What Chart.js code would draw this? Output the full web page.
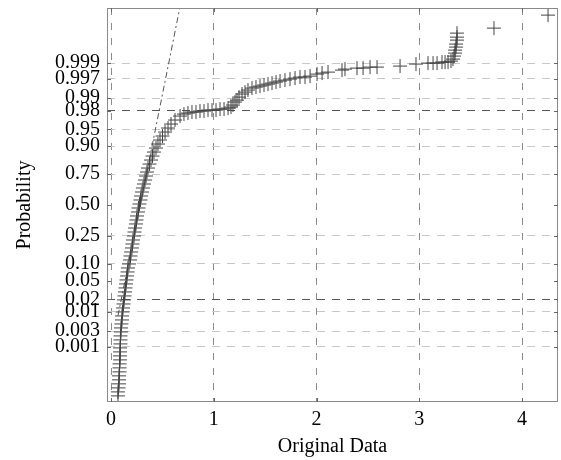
<!DOCTYPE html>
<html lang="en">
<head>
<meta charset="UTF-8" />
<title>Normal Probability Plot</title>
<style>
  body { margin: 0; background: #fff; }
  #wrap { width: 561px; height: 460px; }
</style>
</head>
<body>
<div id="wrap"><canvas id="chart" width="561" height="460"></canvas></div>
<script src="https://cdn.jsdelivr.net/npm/chart.js@4"></script>
<script>
// sample values (Original Data) and their plotting positions,
// read off the probability axis as standard normal quantiles
const dataX = [
  0.068, 0.068, 0.073, 0.078, 0.078, 0.078, 0.083, 0.083, 0.083, 0.088,
  0.088, 0.088, 0.088, 0.092, 0.092, 0.092, 0.097, 0.097, 0.102, 0.107,
  0.107, 0.112, 0.117, 0.122, 0.127, 0.131, 0.136, 0.141, 0.146, 0.151,
  0.156, 0.161, 0.165, 0.175, 0.185, 0.190, 0.195, 0.204, 0.209, 0.214,
  0.224, 0.229, 0.234, 0.243, 0.248, 0.253, 0.263, 0.268, 0.277, 0.287,
  0.292, 0.302, 0.311, 0.321, 0.331, 0.341, 0.350, 0.360, 0.375, 0.389,
  0.404, 0.418, 0.438, 0.457, 0.477, 0.501, 0.526, 0.555, 0.584, 0.623,
  0.672, 0.710, 0.749, 0.788, 0.827, 0.866, 0.905, 0.944, 0.983, 1.022,
  1.061, 1.100, 1.139, 1.168, 1.187, 1.207, 1.226, 1.246, 1.275, 1.304,
  1.333, 1.372, 1.411, 1.450, 1.489, 1.528, 1.567, 1.606, 1.645, 1.693,
  1.742, 1.791, 1.839, 1.888, 1.937, 2.005, 2.054, 2.112, 2.248, 2.277,
  2.394, 2.453, 2.521, 2.589, 2.813, 2.968, 3.085, 3.134, 3.173, 3.221,
  3.251, 3.280, 3.309, 3.328, 3.338, 3.348, 3.348, 3.358, 3.358, 3.367,
  3.367, 3.367, 3.727, 4.253
];
const dataQ = [
  -4.157, -4.070, -3.983, -3.895, -3.808, -3.721, -3.634, -3.547, -3.460, -3.373,
  -3.286, -3.199, -3.112, -3.025, -2.938, -2.851, -2.764, -2.677, -2.590, -2.503,
  -2.416, -2.329, -2.242, -2.155, -2.067, -1.980, -1.893, -1.806, -1.719, -1.632,
  -1.545, -1.458, -1.371, -1.284, -1.197, -1.110, -1.023, -0.936, -0.849, -0.762,
  -0.675, -0.588, -0.501, -0.413, -0.326, -0.239, -0.152, -0.065, 0.022, 0.109,
  0.196, 0.283, 0.370, 0.457, 0.544, 0.631, 0.718, 0.805, 0.892, 0.979,
  1.066, 1.153, 1.240, 1.328, 1.415, 1.502, 1.589, 1.676, 1.763, 1.850,
  1.937, 1.980, 2.002, 2.024, 2.024, 2.046, 2.046, 2.067, 2.067, 2.067,
  2.089, 2.089, 2.111, 2.133, 2.176, 2.242, 2.285, 2.350, 2.416, 2.459,
  2.503, 2.546, 2.568, 2.590, 2.612, 2.633, 2.655, 2.677, 2.699, 2.720,
  2.742, 2.764, 2.786, 2.786, 2.807, 2.851, 2.873, 2.894, 2.938, 2.960,
  2.981, 2.981, 3.003, 3.003, 3.025, 3.069, 3.090, 3.090, 3.090, 3.112,
  3.112, 3.112, 3.134, 3.177, 3.243, 3.308, 3.373, 3.439, 3.504, 3.591,
  3.656, 3.743, 3.852, 4.135
];

// reference line: dash-dot ends, solid between the quartiles
const refX = [0.068, 0.224, 0.345, 0.688];
const refQ = [-2.41, -0.674, 0.674, 4.5];

const probLevels = [0.001, 0.003, 0.01, 0.02, 0.05, 0.10, 0.25, 0.50, 0.75, 0.90, 0.95, 0.98, 0.99, 0.997, 0.999];
const probLabels = ['0.001', '0.003', '0.01', '0.02', '0.05', '0.10', '0.25', '0.50', '0.75', '0.90', '0.95', '0.98', '0.99', '0.997', '0.999'];
const xTicks = [0, 1, 2, 3, 4];

// inverse of the standard normal CDF (Acklam)
function norminv(p) {
  const a = [-39.69683028665376, 220.9460984245205, -275.9285104469687, 138.3577518672690, -30.66479806614716, 2.506628277459239];
  const b = [-54.47609879822406, 161.5858368580409, -155.6989798598866, 66.80131188771972, -13.28068155288572];
  const c = [-0.007784894002430293, -0.3223964580411365, -2.400758277161838, -2.549732539343734, 4.374664141464968, 2.938163982698783];
  const d = [0.007784695709041462, 0.3224671290700398, 2.445134137142996, 3.754408661907416];
  const pl = 0.02425;
  let q, r;
  if (p < pl) {
    q = Math.sqrt(-2 * Math.log(p));
    return (((((c[0]*q+c[1])*q+c[2])*q+c[3])*q+c[4])*q+c[5]) / ((((d[0]*q+d[1])*q+d[2])*q+d[3])*q+1);
  }
  if (p > 1 - pl) {
    q = Math.sqrt(-2 * Math.log(1 - p));
    return -(((((c[0]*q+c[1])*q+c[2])*q+c[3])*q+c[4])*q+c[5]) / ((((d[0]*q+d[1])*q+d[2])*q+d[3])*q+1);
  }
  q = p - 0.5; r = q * q;
  return (((((a[0]*r+a[1])*r+a[2])*r+a[3])*r+a[4])*r+a[5])*q / (((((b[0]*r+b[1])*r+b[2])*r+b[3])*r+b[4])*r+1);
}

const serif = { family: "'Liberation Serif', 'DejaVu Serif', serif", size: 20 };

function hGridColor(ctx) {
  const lbl = probLabels[ctx.index];
  if (lbl === '0.50' || lbl === '0.05') return 'rgba(0,0,0,0)';
  if (lbl === '0.98' || lbl === '0.02') return '#555';
  return '#c8c8c8';
}

// box round the plot area plus short inward tick marks
const frame = {
  id: 'frame',
  afterDatasetsDraw(chart) {
    const { ctx, chartArea: a, scales } = chart;
    ctx.save();
    ctx.strokeStyle = '#8a8a8a';
    ctx.lineWidth = 1;
    ctx.strokeRect(a.left + 0.5, a.top + 0.5, a.right - a.left - 1, a.bottom - a.top - 1);
    ctx.strokeStyle = '#666';
    ctx.beginPath();
    probLevels.forEach(p => {
      const y = Math.round(scales.y.getPixelForValue(norminv(p))) + 0.5;
      ctx.moveTo(a.left, y); ctx.lineTo(a.left + 4, y);
      ctx.moveTo(a.right, y); ctx.lineTo(a.right - 4, y);
    });
    xTicks.forEach(v => {
      const x = Math.round(scales.x.getPixelForValue(v)) + 0.5;
      ctx.moveTo(x, a.bottom); ctx.lineTo(x, a.bottom - 4);
      ctx.moveTo(x, a.top); ctx.lineTo(x, a.top + 4);
    });
    ctx.stroke();
    ctx.restore();
  }
};

new Chart(document.getElementById('chart'), {
  type: 'scatter',
  data: {
    datasets: [
      {
        data: dataX.map((x, i) => ({ x: x, y: dataQ[i] })),
        pointStyle: 'cross',
        pointRadius: 7,
        pointBorderColor: '#444',
        pointBorderWidth: 1,
        showLine: false
      },
      {
        data: refX.map((x, i) => ({ x: x, y: refQ[i] })),
        showLine: true,
        borderColor: '#555',
        borderWidth: 1,
        pointRadius: 0,
        segment: { borderDash: c => c.p0DataIndex === 1 ? [] : [6, 3, 2, 3] }
      }
    ]
  },
  options: {
    responsive: false,
    devicePixelRatio: 1,
    animation: false,
    layout: { autoPadding: false, padding: { top: 8, right: 3, left: 0, bottom: 0 } },
    plugins: { legend: { display: false }, tooltip: { enabled: false } },
    scales: {
      x: {
        type: 'linear',
        min: -0.039,
        max: 4.35,
        afterBuildTicks: s => { s.ticks = xTicks.map(v => ({ value: v })); },
        afterFit: s => { s.height = 58; s.paddingLeft = 0; s.paddingRight = 0; },
        ticks: { font: serif, color: '#000', padding: 6, maxRotation: 0 },
        grid: { drawTicks: false, color: '#8c8c8c' },
        border: { display: false, dash: [7, 8] },
        title: { display: true, text: 'Original Data', font: serif, color: '#000', padding: { top: 0, bottom: 1 } }
      },
      y: {
        type: 'linear',
        min: -4.29,
        max: 4.29,
        afterBuildTicks: s => { s.ticks = probLevels.map(p => ({ value: norminv(p) })); },
        afterFit: s => { s.width = 107; s.paddingTop = 0; s.paddingBottom = 0; },
        ticks: { font: serif, color: '#000', padding: 7, autoSkip: false, callback: (v, i) => probLabels[i] },
        grid: { drawTicks: false, color: hGridColor },
        border: { display: false, dash: [8, 7] },
        title: { display: true, text: 'Probability', font: serif, color: '#000', padding: { top: 13, bottom: 0 } }
      }
    }
  },
  plugins: [frame]
});
</script>
</body>
</html>
